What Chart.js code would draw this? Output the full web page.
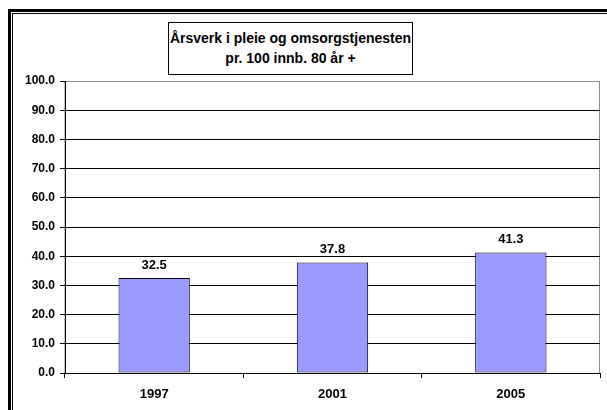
<!DOCTYPE html>
<html>
<head>
<meta charset="utf-8">
<script src="https://cdn.jsdelivr.net/npm/chart.js@4.4.1/dist/chart.umd.min.js"></script>
<style>
    html, body { margin: 0; padding: 0; background: #fff; }
    #wrap { position: relative; width: 607px; height: 410px; overflow: hidden; }
    #frameOuter { position: absolute; left: 8px; top: 9px; width: 700px; height: 500px;
        border-top: 3px solid #000; border-left: 3px solid #000; }
    #frameInner { position: absolute; left: 12px; top: 13px; width: 700px; height: 500px;
        border-top: 1px solid #000; border-left: 1px solid #000; }
    #title { position: absolute; left: 168px; top: 22px; width: 243px; height: 46px;
        border: 1px solid #000; background: #fff;
        font: bold 14px "Liberation Sans", Arial, sans-serif; line-height: 20px;
        white-space: nowrap; text-align: center; padding-top: 5px; color: #000; }
    canvas { position: absolute; left: 0; top: 0; }
</style>
</head>
<body>
<div id="wrap">
    <div id="frameOuter"></div>
    <div id="frameInner"></div>
    <canvas id="arsverkChart" width="607" height="410"></canvas>
    <div id="title">Årsverk i pleie og omsorgstjenesten<br>pr. 100 innb. 80 år +</div>
</div>
<script>
const years = ['1997', '2001', '2005'];
const arsverk = [32.5, 37.8, 41.3];
const yTicks = [0, 10, 20, 30, 40, 50, 60, 70, 80, 90, 100];

const FONT = '"Liberation Sans", Arial, sans-serif';

// gray frame around the plot area, drawn under grid lines
const plotFrame = {
    id: 'plotFrame',
    beforeDraw(chart) {
        const { ctx, chartArea: a } = chart;
        ctx.save();
        ctx.strokeStyle = '#8c8c8c';
        ctx.lineWidth = 1;
        ctx.strokeRect(a.left, a.top + 0.5, a.right - a.left - 0.5, a.bottom - a.top);
        ctx.restore();
    }
};

// value labels above the bars
const barLabels = {
    id: 'barLabels',
    afterDatasetsDraw(chart) {
        const { ctx } = chart;
        const meta = chart.getDatasetMeta(0);
        ctx.save();
        ctx.font = 'bold 13px ' + FONT;
        ctx.fillStyle = '#000';
        ctx.textAlign = 'center';
        ctx.textBaseline = 'middle';
        meta.data.forEach((bar, i) => {
            ctx.fillText(arsverk[i].toFixed(1), bar.x, bar.y - 13);
        });
        ctx.restore();
    }
};

const ctx = document.getElementById('arsverkChart').getContext('2d');
new Chart(ctx, {
    type: 'bar',
    data: {
        labels: years,
        datasets: [{
            data: arsverk,
            backgroundColor: '#9999ff',
            borderColor: '#000',
            borderWidth: 1,
            borderSkipped: false,
            barPercentage: 0.4,
            categoryPercentage: 1.0
        }]
    },
    options: {
        responsive: false,
        animation: false,
        layout: { padding: { top: 81, right: 7, left: 0, bottom: 0 } },
        plugins: {
            legend: { display: false },
            title: { display: false },
            tooltip: { enabled: false }
        },
        scales: {
            x: {
                grid: { offset: true, drawOnChartArea: false, color: '#000', tickLength: 5 },
                border: { color: '#000' },
                ticks: {
                    color: '#000',
                    padding: 9,
                    font: { family: FONT, size: 13, weight: 'bold' }
                },
                afterFit(scale) { scale.height = 37; }
            },
            y: {
                min: 0,
                max: 100,
                afterBuildTicks(scale) { scale.ticks = yTicks.map(v => ({ value: v })); },
                grid: {
                    color: c => (c.tick && c.tick.value === 100) ? '#8c8c8c' : '#000',
                    tickColor: '#000',
                    tickLength: 5
                },
                border: { color: '#000' },
                ticks: {
                    color: '#000',
                    padding: 5,
                    callback: v => v.toFixed(1),
                    font: { family: FONT, size: 12, weight: 'bold' }
                },
                afterFit(scale) { scale.width = 65; }
            }
        }
    },
    plugins: [plotFrame, barLabels]
});
</script>
</body>
</html>
